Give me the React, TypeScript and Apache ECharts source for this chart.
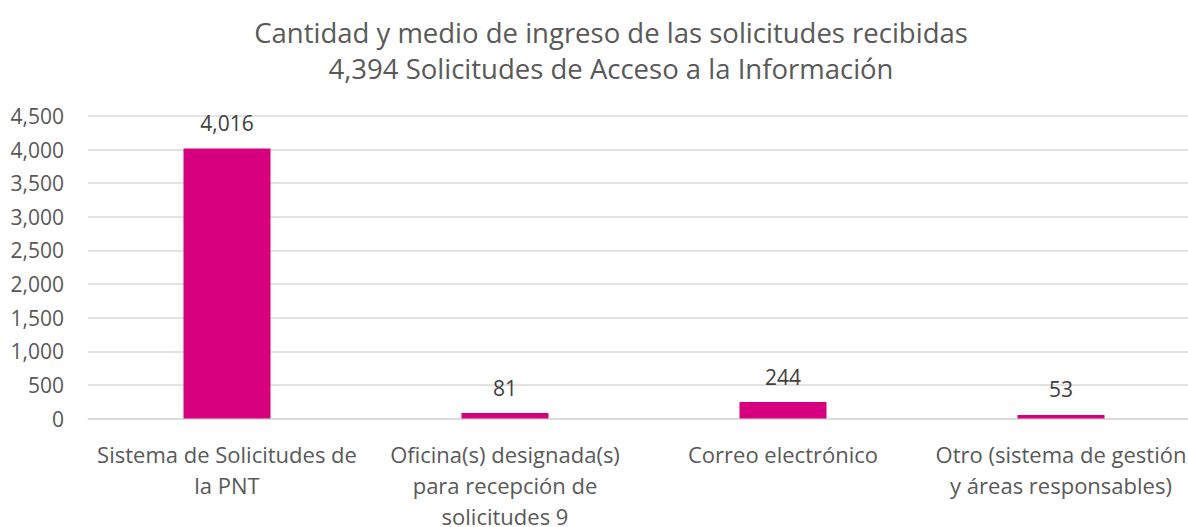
import React, { useEffect, useRef } from "react";
import * as echarts from "echarts";

const titleLines = [
  "Cantidad y medio de ingreso de las solicitudes recibidas",
  "4,394 Solicitudes de Acceso a la Información",
];
const categories = [
  "Sistema de Solicitudes de\nla PNT",
  "Oficina(s) designada(s)\npara recepción de\nsolicitudes 9",
  "Correo electrónico",
  "Otro (sistema de gestión\ny áreas responsables)",
];
const values = [4016, 81, 244, 53];
const yMin = 0;
const yMax = 4500;
const yInterval = 500;

const FONT = "'Open Sans', 'Noto Sans', sans-serif";

export default function App() {
  const ref = useRef<HTMLDivElement>(null);
  useEffect(() => {
    if (!ref.current) return;
    const chart = echarts.init(ref.current, null, { renderer: "svg" });
    chart.setOption({
      animation: false,
      title: {
        text: titleLines.join("\n"),
        left: 606,
        textAlign: "center",
        top: 9,
        textStyle: {
          fontFamily: FONT,
          fontSize: 27.5,
          fontWeight: "normal",
          color: "#595959",
          lineHeight: 36,
        },
      },
      grid: {
        left: 88,
        right: 12,
        top: 116,
        bottom: 108.5,
        containLabel: false,
        outerBoundsMode: "none",
      },
      xAxis: {
        type: "category",
        data: categories,
        axisLine: { show: true, lineStyle: { color: "#d9d9d9", width: 1.5 } },
        axisTick: { show: false },
        axisLabel: {
          interval: 0,
          margin: 19.5,
          fontFamily: FONT,
          fontSize: 22,
          lineHeight: 31,
          color: "#595959",
        },
      },
      yAxis: {
        type: "value",
        min: yMin,
        max: yMax,
        interval: yInterval,
        axisLine: { show: false },
        axisTick: { show: false },
        splitLine: { lineStyle: { color: "#d9d9d9", width: 1.5 } },
        axisLabel: {
          margin: 24,
          fontFamily: FONT,
          fontSize: 21,
          color: "#595959",
          formatter: (v: number) => v.toLocaleString("en-US"),
        },
      },
      series: [
        {
          type: "bar",
          data: values,
          barWidth: 87,
          itemStyle: { color: "#D6007F" },
          label: {
            show: true,
            position: "top",
            distance: 15,
            fontFamily: FONT,
            fontSize: 21,
            color: "#404040",
            formatter: (p: any) => Number(p.value).toLocaleString("en-US"),
          },
        },
      ],
    });
    return () => chart.dispose();
  }, []);
  return (
    <div style={{ position: "fixed", left: 0, top: 0, width: 1188, height: 527, overflow: "hidden", background: "#fff" }}>
      <div ref={ref} style={{ width: 1212, height: 527 }} />
    </div>
  );
}
